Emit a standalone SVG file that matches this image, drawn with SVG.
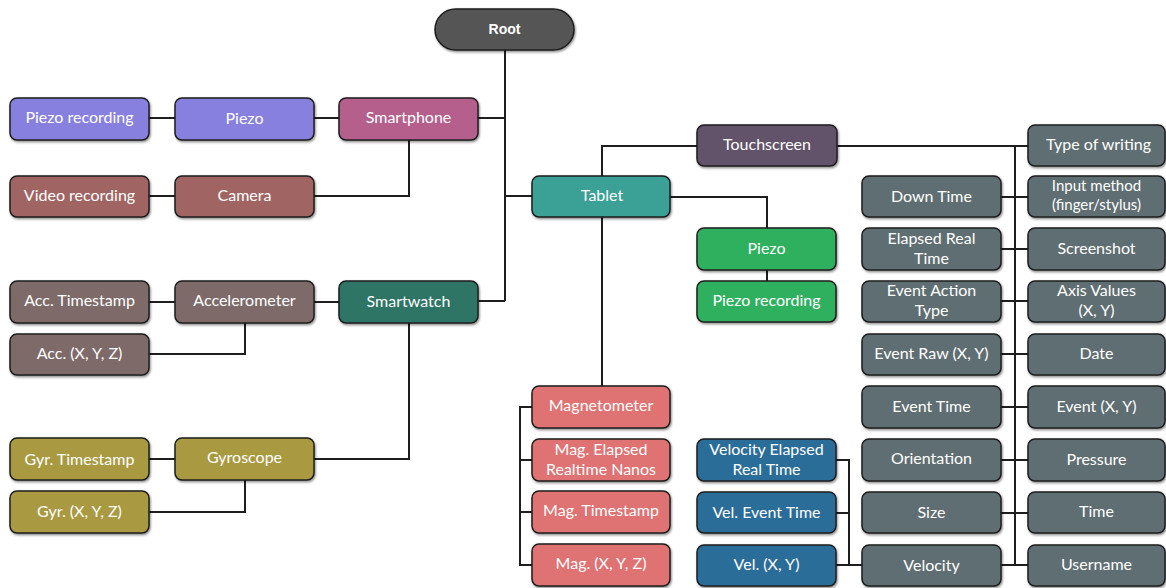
<svg xmlns="http://www.w3.org/2000/svg" width="1166" height="588" viewBox="0 0 1166 588">
<defs>
<filter id="sh" x="-10%" y="-10%" width="120%" height="130%"><feDropShadow dx="1" dy="1.5" stdDeviation="1" flood-color="#000" flood-opacity="0.45"/></filter>
<style>
.b{stroke:#1e1e1e;stroke-width:1.5;filter:url(#sh)}
.t{font-family:Lato,"Open Sans","Liberation Sans",sans-serif;font-size:16px;fill:#fff;text-anchor:middle;dominant-baseline:central;transform:translateY(-1.5px)}
.s{font-size:15px}
.c{fill:none;stroke:#1e1e1e;stroke-width:2}
.pz{fill:#8780de}.sp{fill:#b55e8c}.cam{fill:#a06563}.acc{fill:#7d6b69}.sw{fill:#2d7565}.gy{fill:#a99a42}
.tab{fill:#3aa096}.ts{fill:#62526b}.gp{fill:#2fb05f}.mg{fill:#df7272}.vl{fill:#2a6d99}.gr{fill:#5f6e72}
</style>
</defs>
<rect width="1166" height="588" fill="#fff"/>
<g id="connectors">
<path class="c" d="M505 50V301M478 118H505M505 196H532M478 301H505"/>
<path class="c" d="M149 118H175M314 118H339M409 140V196H314M149 196H175"/>
<path class="c" d="M149 302H175M314 302H339M245 323V354H149M409 323V459H314M149 459H175M245 480V512H149"/>
<path class="c" d="M602 176V146H697M837 146H1028M1015 146V566"/>
<path class="c" d="M670 197H767V228M767 270V281"/>
<path class="c" d="M602 217V386M532 407H520V565H532M520 460H532M520 512H532"/>
<path class="c" d="M836 460H849V565M836 513H849M836 565H862"/>
<path class="c" d="M1001 197H1028M1001 249H1028M1001 301H1028M1001 354H1028M1001 407H1028M1001 460H1028M1001 513H1028M1001 565H1028"/>
</g>
<g id="root"><rect class="b" x="435" y="9" width="139" height="41" rx="20.5" fill="#555"/><text class="t" x="504.5" y="30.5" style="font-family:'Liberation Sans',Arial,sans-serif;font-weight:bold;font-size:14px">Root</text></g>
<g id="piezo-recording-phone"><rect class="b pz" x="10" y="98" width="139" height="42" rx="7"/><text class="t" x="79.5" y="118">Piezo recording</text></g>
<g id="piezo-phone"><rect class="b pz" x="175" y="98" width="139" height="42" rx="7"/><text class="t" x="244.5" y="119">Piezo</text></g>
<g id="smartphone"><rect class="b sp" x="339" y="98" width="139" height="42" rx="7"/><text class="t" x="408.5" y="118">Smartphone</text></g>
<g id="video-recording"><rect class="b cam" x="10" y="176" width="139" height="41" rx="7"/><text class="t" x="79.5" y="196">Video recording</text></g>
<g id="camera"><rect class="b cam" x="175" y="176" width="139" height="41" rx="7"/><text class="t" x="244.5" y="196">Camera</text></g>
<g id="acc-timestamp"><rect class="b acc" x="10" y="281" width="139" height="42" rx="7"/><text class="t" x="79.5" y="301">Acc. Timestamp</text></g>
<g id="accelerometer"><rect class="b acc" x="175" y="281" width="139" height="42" rx="7"/><text class="t" x="244.5" y="301">Accelerometer</text></g>
<g id="smartwatch"><rect class="b sw" x="339" y="281" width="139" height="42" rx="7"/><text class="t" x="408.5" y="302">Smartwatch</text></g>
<g id="acc-xyz"><rect class="b acc" x="10" y="334" width="139" height="41" rx="7"/><text class="t" x="79.5" y="354">Acc. (X, Y, Z)</text></g>
<g id="gyr-timestamp"><rect class="b gy" x="10" y="438" width="139" height="42" rx="7"/><text class="t" x="79.5" y="460">Gyr. Timestamp</text></g>
<g id="gyroscope"><rect class="b gy" x="175" y="438" width="139" height="42" rx="7"/><text class="t" x="244.5" y="458">Gyroscope</text></g>
<g id="gyr-xyz"><rect class="b gy" x="10" y="491" width="139" height="42" rx="7"/><text class="t" x="79.5" y="512">Gyr. (X, Y, Z)</text></g>
<g id="tablet"><rect class="b tab" x="532" y="176" width="138" height="41" rx="7"/><text class="t" x="602" y="196">Tablet</text></g>
<g id="touchscreen"><rect class="b ts" x="697" y="125" width="140" height="41" rx="7"/><text class="t" x="767" y="145">Touchscreen</text></g>
<g id="piezo-tablet"><rect class="b gp" x="697" y="228" width="139" height="42" rx="7"/><text class="t" x="766.5" y="249">Piezo</text></g>
<g id="piezo-recording-tablet"><rect class="b gp" x="697" y="281" width="139" height="41" rx="7"/><text class="t" x="766.5" y="301">Piezo recording</text></g>
<g id="magnetometer"><rect class="b mg" x="532" y="386" width="138" height="42" rx="7"/><text class="t" x="601" y="406">Magnetometer</text></g>
<g id="mag-elapsed"><rect class="b mg" x="532" y="439" width="138" height="42" rx="7"/><text class="t" x="601" y="450">Mag. Elapsed</text><text class="t" x="601" y="470">Realtime Nanos</text></g>
<g id="mag-timestamp"><rect class="b mg" x="532" y="491" width="138" height="42" rx="7"/><text class="t" x="601" y="511">Mag. Timestamp</text></g>
<g id="mag-xyz"><rect class="b mg" x="532" y="544" width="138" height="42" rx="7"/><text class="t" x="601" y="564">Mag. (X, Y, Z)</text></g>
<g id="vel-elapsed"><rect class="b vl" x="697" y="439" width="139" height="42" rx="7"/><text class="t" x="766.5" y="450">Velocity Elapsed</text><text class="t" x="766.5" y="470">Real Time</text></g>
<g id="vel-event-time"><rect class="b vl" x="697" y="492" width="139" height="41" rx="7"/><text class="t" x="766.5" y="513">Vel. Event Time</text></g>
<g id="vel-xy"><rect class="b vl" x="697" y="545" width="139" height="41" rx="7"/><text class="t" x="766.5" y="565">Vel. (X, Y)</text></g>
<g id="down-time"><rect class="b gr" x="862" y="176" width="139" height="41" rx="7"/><text class="t" x="931.5" y="197">Down Time</text></g>
<g id="elapsed-real-time"><rect class="b gr" x="862" y="228" width="139" height="42" rx="7"/><text class="t" x="931.5" y="239">Elapsed Real</text><text class="t" x="931.5" y="259">Time</text></g>
<g id="event-action-type"><rect class="b gr" x="862" y="281" width="139" height="41" rx="7"/><text class="t" x="931.5" y="291">Event Action</text><text class="t" x="931.5" y="311">Type</text></g>
<g id="event-raw"><rect class="b gr" x="862" y="334" width="139" height="41" rx="7"/><text class="t" x="931.5" y="354">Event Raw (X, Y)</text></g>
<g id="event-time"><rect class="b gr" x="862" y="386" width="139" height="42" rx="7"/><text class="t" x="931.5" y="407">Event Time</text></g>
<g id="orientation"><rect class="b gr" x="862" y="439" width="139" height="42" rx="7"/><text class="t" x="931.5" y="459">Orientation</text></g>
<g id="size"><rect class="b gr" x="862" y="492" width="139" height="41" rx="7"/><text class="t" x="931.5" y="513">Size</text></g>
<g id="velocity"><rect class="b gr" x="862" y="545" width="139" height="41" rx="7"/><text class="t" x="931.5" y="566">Velocity</text></g>
<g id="type-of-writing"><rect class="b gr" x="1028" y="125" width="137" height="41" rx="7"/><text class="t" x="1098.5" y="145">Type of writing</text></g>
<g id="input-method"><rect class="b gr" x="1028" y="176" width="137" height="41" rx="7"/><text class="t s" x="1096.5" y="186">Input method</text><text class="t s" x="1096.5" y="205">(finger/stylus)</text></g>
<g id="screenshot"><rect class="b gr" x="1028" y="228" width="137" height="42" rx="7"/><text class="t" x="1096.5" y="249">Screenshot</text></g>
<g id="axis-values"><rect class="b gr" x="1028" y="281" width="137" height="41" rx="7"/><text class="t" x="1096.5" y="291">Axis Values</text><text class="t" x="1096.5" y="311">(X, Y)</text></g>
<g id="date"><rect class="b gr" x="1028" y="334" width="137" height="41" rx="7"/><text class="t" x="1096.5" y="354">Date</text></g>
<g id="event-xy"><rect class="b gr" x="1028" y="386" width="137" height="42" rx="7"/><text class="t" x="1096.5" y="407">Event (X, Y)</text></g>
<g id="pressure"><rect class="b gr" x="1028" y="439" width="137" height="42" rx="7"/><text class="t" x="1096.5" y="460">Pressure</text></g>
<g id="time"><rect class="b gr" x="1028" y="492" width="137" height="41" rx="7"/><text class="t" x="1096.5" y="512">Time</text></g>
<g id="username"><rect class="b gr" x="1028" y="545" width="137" height="41" rx="7"/><text class="t" x="1096.5" y="565">Username</text></g>
</svg>
